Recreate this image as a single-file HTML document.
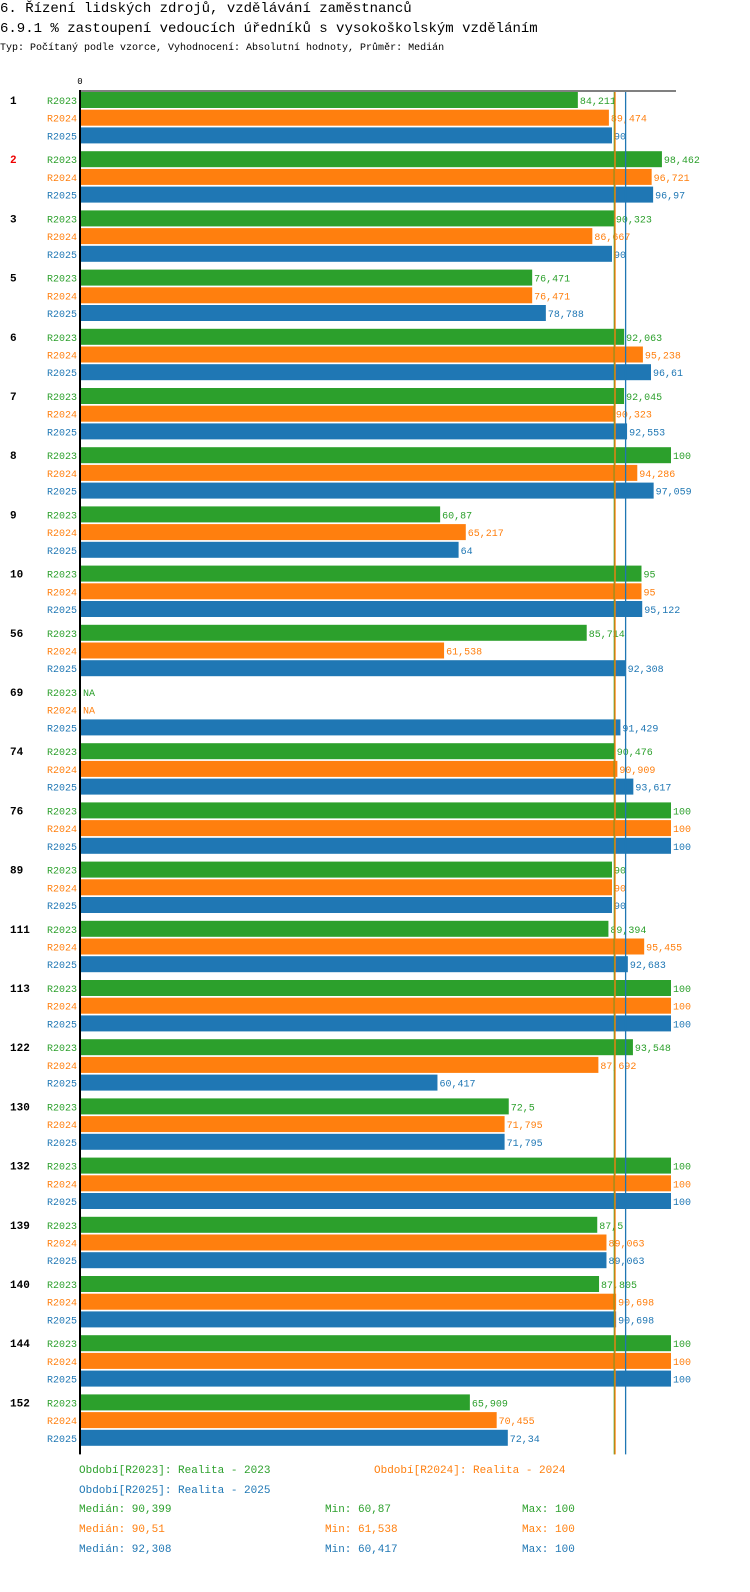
<!DOCTYPE html>
<html><head><meta charset="utf-8"><style>
html,body{margin:0;padding:0;width:750px;height:1592px;overflow:hidden;background:#fff;font-family:"Liberation Mono",monospace;}
#wrap{position:relative;width:750px;height:1592px;overflow:hidden}
.t{position:absolute;white-space:nowrap}
svg{display:block}
</style></head><body><div id="wrap">
<div class="t" style="left:0;top:1px;font-size:14px">6. Řízení lidských zdrojů, vzdělávání zaměstnanců</div>
<div class="t" style="left:0;top:21px;font-size:14px">6.9.1 % zastoupení vedoucích úředníků s vysokoškolským vzděláním</div>
<div class="t" style="left:0;top:43px;font-size:10px">Typ: Počítaný podle vzorce, Vyhodnocení: Absolutní hodnoty, Průměr: Medián</div>
<svg id="chart" width="750" height="1592" style="position:absolute;left:0;top:0"></svg>
<div class="t" style="left:79px;top:1465px;font-size:11px;color:#2ca02c">Období[R2023]: Realita - 2023</div>
<div class="t" style="left:374px;top:1465px;font-size:11px;color:#ff7f0e">Období[R2024]: Realita - 2024</div>
<div class="t" style="left:79px;top:1485px;font-size:11px;color:#1f77b4">Období[R2025]: Realita - 2025</div>
<div class="t" style="left:79px;top:1504px;font-size:11px;color:#2ca02c">Medián: 90,399</div>
<div class="t" style="left:325px;top:1504px;font-size:11px;color:#2ca02c">Min: 60,87</div>
<div class="t" style="left:522px;top:1504px;font-size:11px;color:#2ca02c">Max: 100</div>
<div class="t" style="left:79px;top:1524px;font-size:11px;color:#ff7f0e">Medián: 90,51</div>
<div class="t" style="left:325px;top:1524px;font-size:11px;color:#ff7f0e">Min: 61,538</div>
<div class="t" style="left:522px;top:1524px;font-size:11px;color:#ff7f0e">Max: 100</div>
<div class="t" style="left:79px;top:1544px;font-size:11px;color:#1f77b4">Medián: 92,308</div>
<div class="t" style="left:325px;top:1544px;font-size:11px;color:#1f77b4">Min: 60,417</div>
<div class="t" style="left:522px;top:1544px;font-size:11px;color:#1f77b4">Max: 100</div>
</div>
<script>
const categories=["1","2","3","5","6","7","8","9","10","56","69","74","76","89","111","113","122","130","132","139","140","144","152"];
const seriesNames=["R2023","R2024","R2025"];
const r2023=[84.211,98.462,90.323,76.471,92.063,92.045,100,60.87,95,85.714,null,90.476,100,90,89.394,100,93.548,72.5,100,87.5,87.805,100,65.909];
const r2024=[89.474,96.721,86.667,76.471,95.238,90.323,94.286,65.217,95,61.538,null,90.909,100,90,95.455,100,87.692,71.795,100,89.063,90.698,100,70.455];
const r2025=[90,96.97,90,78.788,96.61,92.553,97.059,64,95.122,92.308,91.429,93.617,100,90,92.683,100,60.417,71.795,100,89.063,90.698,100,72.34];
const medians=[90.399,90.51,92.308];
const colors=["#2ca02c","#ff7f0e","#1f77b4"];
const NS="http://www.w3.org/2000/svg";
const svg=document.getElementById("chart");
const x0=81,scale=5.9;
const xs=v=>x0+v*scale;
const groupTop=i=>92+i*59.2;
function mk(tag,attrs){const e=document.createElementNS(NS,tag);for(const k in attrs)e.setAttribute(k,attrs[k]);svg.appendChild(e);return e;}
const fmt=v=>String(v).replace(".",",");
const series=[r2023,r2024,r2025];
categories.forEach((c,i)=>{
  const gt=groupTop(i);
  const gl=mk("text",{x:10,y:gt+12,"font-size":11,"font-weight":"bold",fill:c==="2"?"#e00":"#000","font-family":"Liberation Mono, monospace"});
  gl.textContent=c;
  
  
  series.forEach((s,j)=>{
    const y=gt+j*17.7;
    const sl=mk("text",{x:77,y:y+12,"font-size":10,fill:colors[j],"text-anchor":"end","font-family":"Liberation Mono, monospace"});
    sl.textContent=seriesNames[j];
    
    
    const v=s[i];
    let endX=x0;
    if(v!==null){
      const r=mk("rect",{x:x0,y:y,width:xs(v)-x0,height:16,fill:colors[j]});
      
      
      endX=xs(v);
    }
    const vl=mk("text",{x:endX+2,y:y+12,"font-size":10,fill:colors[j],"font-family":"Liberation Mono, monospace"});
    vl.textContent=v===null?"NA":fmt(v);
    
    
  });
});
const bottom=groupTop(categories.length-1)+60;
medians.forEach((m,j)=>{
  const l=mk("line",{x1:xs(m),x2:xs(m),y1:92,y2:bottom,stroke:colors[j],"stroke-width":1.3});
  
  
});
const ax=mk("line",{x1:80,x2:80,y1:90,y2:bottom,stroke:"#000","stroke-width":2});


const hx=mk("line",{x1:80,x2:676,y1:91,y2:91,stroke:"#000","stroke-width":1});


const z=mk("text",{x:80,y:84,"font-size":9,"text-anchor":"middle","font-family":"Liberation Mono, monospace"});
z.textContent="0";


</script></body></html>
